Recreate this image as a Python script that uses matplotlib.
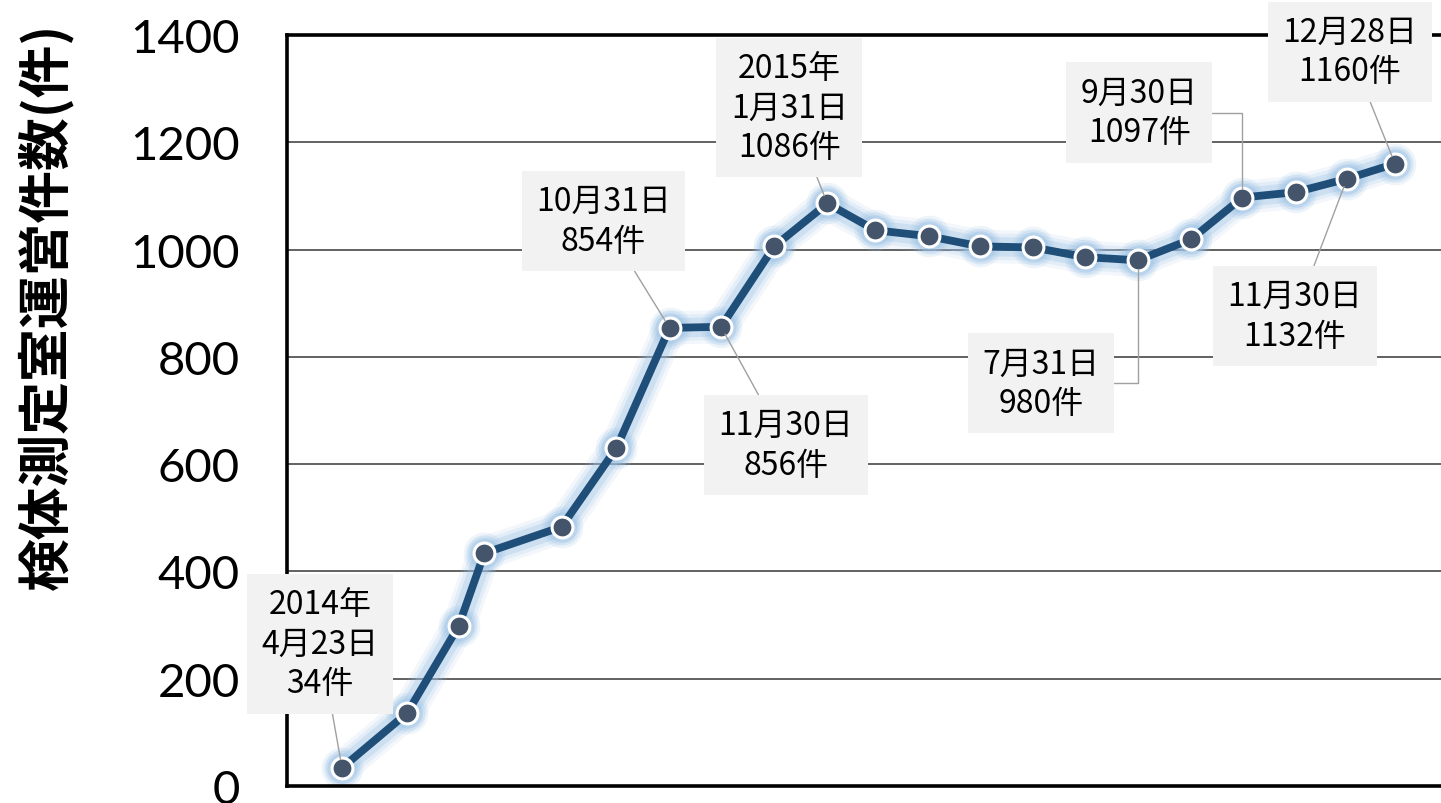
import matplotlib
matplotlib.use("Agg")
import matplotlib.pyplot as plt
import matplotlib.dates as mdates
from datetime import datetime

# ---------------- data ----------------
dates = ['2014-04-23', '2014-05-31', '2014-06-30', '2014-07-15', '2014-08-29',
         '2014-09-30', '2014-10-31', '2014-11-30', '2014-12-31', '2015-01-31',
         '2015-02-28', '2015-03-31', '2015-04-30', '2015-05-31', '2015-06-30',
         '2015-07-31', '2015-08-31', '2015-09-30', '2015-10-31', '2015-11-30',
         '2015-12-28']
counts = [34, 136, 298, 434, 483, 630, 854, 856, 1006, 1086, 1036, 1025, 1006,
          1004, 986, 980, 1019, 1097, 1107, 1132, 1160]
yticks = [0, 200, 400, 600, 800, 1000, 1200, 1400]
ylabel = '検体測定室運営件数(件)'

label_idx = [0, 6, 9, 7, 15, 17, 19, 20]
label_txt = ['2014年\n4月23日\n34件', '10月31日\n854件', '2015年\n1月31日\n1086件',
             '11月30日\n856件', '7月31日\n980件', '9月30日\n1097件',
             '11月30日\n1132件', '12月28日\n1160件']
# offsets of label centres (pixels) and connector style
label_off = [(-22, 124), (-66, 107), (-38, 96), (65, -118), (-97, -123),
             (-103, 85), (-52, -137), (-45, 112)]
label_conn = ['arc3', 'arc3', 'arc3', 'arc3', 'angle,angleA=0,angleB=90,rad=0',
              'angle,angleA=0,angleB=90,rad=0', 'arc3', 'arc3']

# ---------------- figure ----------------
W, H = 1441, 804
fig = plt.figure(figsize=(W / 100, H / 100), dpi=100)
right_px = 1470
ax = fig.add_axes([287 / W, 17 / H, (right_px - 287) / W, 751 / H])

x = [mdates.date2num(datetime.strptime(d, '%Y-%m-%d')) for d in dates]
x0 = x[0]
pxday = 1.715
ax.set_xlim(x0 - (342 - 287) / pxday, x0 + (right_px - 342) / pxday)
ax.set_ylim(0, 1400)

# grid
ax.set_yticks(yticks)
ax.yaxis.grid(True, color='#555555', lw=1.3)
ax.set_axisbelow(True)
ax.set_xticks([])
ax.tick_params(axis='y', length=0, pad=34, labelsize=34, labelcolor='black')
for lab in ax.get_yticklabels():
    lab.set_family(['Lato', 'DejaVu Sans'])

for s in ['left', 'top', 'bottom']:
    ax.spines[s].set_color('black')
    ax.spines[s].set_linewidth(2.6)
ax.spines['right'].set_visible(False)

# glow
for lw, a in [(24, 0.12), (19, 0.18), (14, 0.3)]:
    ax.plot(x, counts, color='#9dc3e6', lw=lw, alpha=a, solid_capstyle='round',
            solid_joinstyle='round', zorder=2)
for ms, a in [(30, 0.18), (26, 0.25), (22, 0.4)]:
    ax.plot(x, counts, ls='none', marker='o', ms=ms, mfc='#9dc3e6', mec='none',
            alpha=a, zorder=2)
# line and markers
ax.plot(x, counts, color='#1f4e79', lw=5.6, solid_joinstyle='round', zorder=3)
ax.plot(x, counts, ls='none', marker='o', ms=15, mfc='#44546a', mec='white',
        mew=2.2, zorder=4)

# labels
for i, t, off, conn in zip(label_idx, label_txt, label_off, label_conn):
    ax.annotate(t, xy=(x[i], counts[i]), xytext=off, textcoords='offset pixels',
                ha='center', va='center', fontsize=23, linespacing=1.3,
                family=['Noto Sans CJK JP', 'DejaVu Sans'], color='black',
                bbox=dict(boxstyle='square,pad=0.45', fc='#f2f2f2', ec='none'),
                arrowprops=dict(arrowstyle='-', color='#a0a0a0', lw=1.0,
                                shrinkA=0, shrinkB=6, connectionstyle=conn),
                annotation_clip=False, zorder=6)

# y label
fig.text(45 / W, 1 - 306 / H, ylabel, rotation=90, ha='center', va='center',
         fontsize=38, fontweight='bold',
         family=['Noto Sans CJK JP', 'DejaVu Sans'])

fig.savefig('out.png', dpi=100)
